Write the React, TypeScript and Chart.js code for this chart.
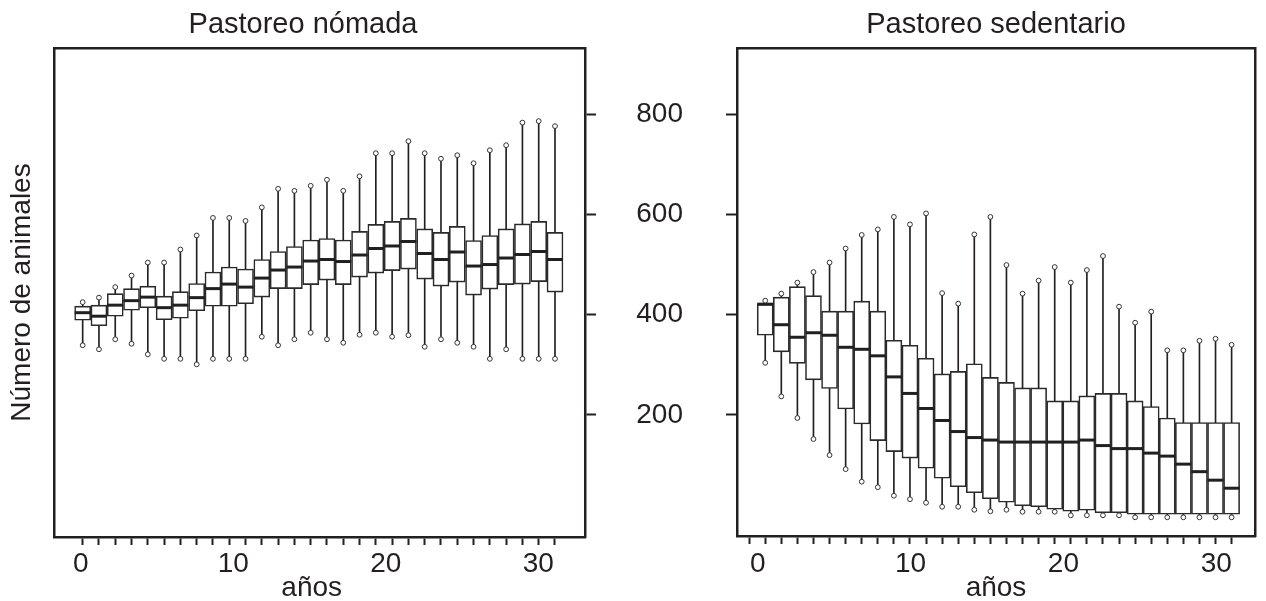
import React, { useEffect, useRef } from 'react';
import { Chart, registerables } from 'chart.js';

Chart.register(...registerables);

// ---------- data ----------
const nomadaYears = [0, 1, 2, 3, 4, 5, 6, 7, 8, 9, 10, 11, 12, 13, 14, 15, 16, 17, 18, 19, 20, 21, 22, 23, 24, 25, 26, 27, 28, 29];
const nomadaMax = [425, 434, 455, 478, 504, 504, 530, 558, 593, 593, 587, 614, 651, 647, 657, 669, 647, 676, 722, 722, 746, 722, 711, 718, 702, 728, 738, 783, 786, 776];
const nomadaQ3 = [417, 419, 442, 452, 457, 437, 446, 462, 485, 495, 491, 510, 526, 536, 549, 552, 549, 566, 580, 586, 592, 571, 564, 576, 548, 558, 571, 581, 586, 564];
const nomadaMedian = [404, 397, 419, 428, 435, 414, 419, 434, 452, 461, 455, 473, 489, 495, 507, 510, 506, 519, 532, 537, 546, 522, 510, 525, 497, 500, 513, 520, 526, 510];
const nomadaQ1 = [389, 378, 397, 409, 414, 390, 393, 408, 417, 417, 422, 435, 452, 452, 460, 469, 460, 475, 483, 488, 491, 471, 457, 465, 439, 451, 460, 461, 466, 445];
const nomadaMin = [339, 331, 351, 342, 321, 312, 312, 301, 312, 312, 312, 356, 339, 351, 364, 351, 344, 360, 364, 356, 359, 336, 351, 344, 336, 312, 331, 312, 312, 312];

const sedentarioYears = [1, 2, 3, 4, 5, 6, 7, 8, 9, 10, 11, 12, 13, 14, 15, 16, 17, 18, 19, 20, 21, 22, 23, 24, 25, 26, 27, 28, 29, 30];
const sedentarioTicks = [0, 1, 2, 3, 4, 5, 6, 7, 8, 9, 10, 11, 12, 13, 14, 15, 16, 17, 18, 19, 20, 21, 22, 23, 24, 25, 26, 27, 28, 29, 30];
const sedentarioMax = [428, 442, 464, 485, 504, 532, 559, 570, 595, 580, 602, 443, 422, 560, 595, 499, 442, 468, 495, 464, 489, 517, 416, 384, 406, 329, 329, 348, 352, 340];
const sedentarioQ3 = [421, 435, 456, 438, 407, 407, 427, 407, 349, 339, 313, 282, 287, 302, 275, 265, 254, 254, 228, 228, 238, 243, 243, 228, 217, 194, 185, 185, 185, 185];
const sedentarioMedian = [421, 380, 355, 364, 359, 335, 331, 318, 276, 243, 213, 189, 167, 155, 150, 146, 146, 146, 146, 146, 150, 139, 133, 133, 124, 118, 102, 87, 70, 54];
const sedentarioQ1 = [359, 326, 303, 270, 253, 212, 182, 149, 127, 114, 94, 74, 57, 45, 33, 26, 19, 17, 12, 8, 10, 5, 5, 2, 2, 2, 2, 2, 2, 2];
const sedentarioMin = [304, 237, 194, 152, 120, 92, 67, 56, 39, 32, 25, 17, 17, 11, 8, 11, 7, 7, 7, 0, 0, 0, 0, -4, -4, -4, -4, -4, -4, -4];

const yTickValues = [200, 400, 600, 800];
const xLabelValues = [0, 10, 20, 30];

// ---------- style ----------
const INK = '#231f20';
const FAMILY = "'Liberation Sans', Arial, Helvetica, sans-serif";

function boxDatasets(years: number[], lo: number[], q1: number[], med: number[], q3: number[], hi: number[]) {
  return [
    {
      type: 'bar',
      label: 'bigotes',
      data: years.map((x, i) => ({ x, y: [lo[i], hi[i]] })),
      backgroundColor: INK,
      borderWidth: 0,
      barThickness: 1,
      maxBarThickness: 1,
      grouped: false,
      order: 4,
    },
    {
      type: 'bar',
      label: 'caja',
      data: years.map((x, i) => ({ x, y: [q1[i], q3[i]] })),
      backgroundColor: '#ffffff',
      borderColor: '#2a2a2a',
      borderWidth: 1.6,
      borderSkipped: false,
      barThickness: 16,
      maxBarThickness: 16,
      grouped: false,
      order: 3,
    },
    {
      type: 'scatter',
      label: 'mediana',
      data: years.map((x, i) => ({ x, y: med[i] })),
      pointStyle: 'line',
      pointRadius: 8,
      pointHoverRadius: 8,
      pointBorderColor: INK,
      pointBorderWidth: 3,
      pointHoverBorderWidth: 3,
      order: 2,
    },
    {
      type: 'scatter',
      label: 'extremos',
      data: years.flatMap((x, i) => [{ x, y: lo[i] }, { x, y: hi[i] }]),
      pointStyle: 'circle',
      pointRadius: 2.4,
      pointHoverRadius: 2.4,
      pointBackgroundColor: '#ffffff',
      pointBorderColor: '#333333',
      pointBorderWidth: 1,
      order: 1,
    },
  ];
}

function boxAxis(min: number, max: number, ticks: number[], height: number) {
  return {
    type: 'linear',
    axis: 'x',
    position: 'bottom',
    weight: 0,
    min,
    max,
    offset: false,
    grid: {
      display: true,
      offset: false,
      drawOnChartArea: false,
      drawTicks: true,
      tickLength: 8,
      tickWidth: 2,
      tickColor: INK,
    },
    border: { display: true, width: 2.5, color: INK },
    ticks: { display: false },
    afterBuildTicks: (s: any) => {
      s.ticks = ticks.map((value) => ({ value }));
    },
    afterFit: (s: any) => {
      s.height = height;
      s.paddingLeft = 0;
      s.paddingRight = 0;
    },
  };
}

function labelAxis(min: number, max: number, title: string, height: number, tickPad: number, titlePad: number) {
  return {
    type: 'linear',
    axis: 'x',
    position: 'bottom',
    weight: 1,
    min,
    max,
    offset: false,
    grid: { display: false, drawTicks: false, offset: false },
    border: { display: false },
    ticks: {
      autoSkip: false,
      maxRotation: 0,
      minRotation: 0,
      padding: tickPad,
      color: INK,
      font: { family: FAMILY, size: 28, lineHeight: 1.2 },
    },
    afterBuildTicks: (s: any) => {
      s.ticks = xLabelValues.map((value) => ({ value }));
    },
    title: {
      display: true,
      text: title,
      color: INK,
      font: { family: FAMILY, size: 28, lineHeight: 1.2 },
      padding: { top: 0, bottom: titlePad },
    },
    afterFit: (s: any) => {
      s.height = height;
      s.paddingLeft = 0;
      s.paddingRight = 0;
    },
  };
}

function frameTop() {
  return {
    type: 'linear',
    axis: 'x',
    position: 'top',
    min: 0,
    max: 1,
    offset: false,
    grid: { display: false, drawTicks: false, offset: false },
    ticks: { display: false },
    border: { display: true, width: 2.5, color: INK },
    afterFit: (s: any) => {
      s.height = 0;
      s.paddingLeft = 0;
      s.paddingRight = 0;
    },
  };
}

function valueAxis(position: string, min: number, max: number, showLabels: boolean, width: number) {
  return {
    type: 'linear',
    axis: 'y',
    position,
    min,
    max,
    grid: {
      display: true,
      drawOnChartArea: false,
      drawTicks: true,
      tickLength: 11,
      tickWidth: 2,
      tickColor: INK,
    },
    border: { display: true, width: 2.5, color: INK },
    ticks: {
      display: showLabels,
      padding: 43,
      color: INK,
      font: { family: FAMILY, size: 28, lineHeight: 1.2 },
    },
    afterBuildTicks: (s: any) => {
      s.ticks = yTickValues.map((value) => ({ value }));
    },
    afterFit: (s: any) => {
      s.width = width;
      s.paddingTop = 0;
      s.paddingBottom = 0;
    },
  };
}

function frameSide(position: string, width: number, title?: string) {
  return {
    type: 'linear',
    axis: 'y',
    position,
    min: 0,
    max: 1,
    grid: { display: false, drawTicks: false },
    ticks: { display: false },
    border: { display: true, width: 2.5, color: INK },
    title: {
      display: !!title,
      text: title || '',
      color: INK,
      font: { family: FAMILY, size: 28, lineHeight: 1.2 },
      padding: { top: 5.2, bottom: 0 },
    },
    afterFit: (s: any) => {
      s.width = width;
      s.paddingTop = 0;
      s.paddingBottom = 0;
    },
  };
}

function titleOptions(text: string, fullSize: boolean) {
  return {
    display: true,
    text,
    color: INK,
    fullSize,
    font: { family: FAMILY, size: 29, weight: 'normal', lineHeight: 1.2 },
    padding: { top: 7.6, bottom: 5.6 },
  };
}

function leftConfig(): any {
  return {
    type: 'scatter',
    data: {
      datasets: boxDatasets(nomadaYears, nomadaMin, nomadaQ1, nomadaMedian, nomadaQ3, nomadaMax),
    },
    options: {
      responsive: false,
      animation: false,
      events: [],
      layout: { padding: 0 },
      plugins: {
        legend: { display: false },
        tooltip: { enabled: false },
        title: titleOptions('Pastoreo nómada', true),
      },
      scales: {
        x: boxAxis(-1.76, 30.842, nomadaYears, 8),
        xl: labelAxis(-1.757, 33.062, 'años  ', 67, 2.2, 7.2),
        xt: frameTop(),
        y: valueAxis('right', -43.3, 931.8, false, 21),
        yf: frameSide('left', 54, 'Número de animales'),
      },
    },
  };
}

function rightConfig(): any {
  return {
    type: 'scatter',
    data: {
      datasets: boxDatasets(sedentarioYears, sedentarioMin, sedentarioQ1, sedentarioMedian, sedentarioQ3, sedentarioMax),
    },
    options: {
      responsive: false,
      animation: false,
      events: [],
      layout: { padding: { left: 0, right: 4, top: 0, bottom: 0 } },
      plugins: {
        legend: { display: false },
        tooltip: { enabled: false },
        title: titleOptions('Pastoreo sedentario', false),
      },
      scales: {
        x: boxAxis(-0.755, 31.454, sedentarioTicks, 8),
        xl: labelAxis(-1.356, 32.537, 'años', 68, 3.2, 7.2),
        xt: frameTop(),
        y: valueAxis('left', -41.3, 931.8, true, 137),
        yf: frameSide('right', 0),
      },
    },
  };
}

export default function App() {
  const leftRef = useRef<HTMLCanvasElement>(null);
  const rightRef = useRef<HTMLCanvasElement>(null);

  useEffect(() => {
    const c1 = new Chart(leftRef.current as HTMLCanvasElement, leftConfig());
    const c2 = new Chart(rightRef.current as HTMLCanvasElement, rightConfig());
    return () => {
      c1.destroy();
      c2.destroy();
    };
  }, []);

  return (
    <div
      style={{
        position: 'absolute',
        left: 0,
        top: 0,
        width: 1266,
        height: 601,
        overflow: 'hidden',
        background: '#ffffff',
      }}
    >
      <canvas ref={leftRef} width={606} height={612} style={{ position: 'absolute', left: 0, top: 0 }} />
      <canvas ref={rightRef} width={666} height={612} style={{ position: 'absolute', left: 600, top: 0 }} />
    </div>
  );
}
